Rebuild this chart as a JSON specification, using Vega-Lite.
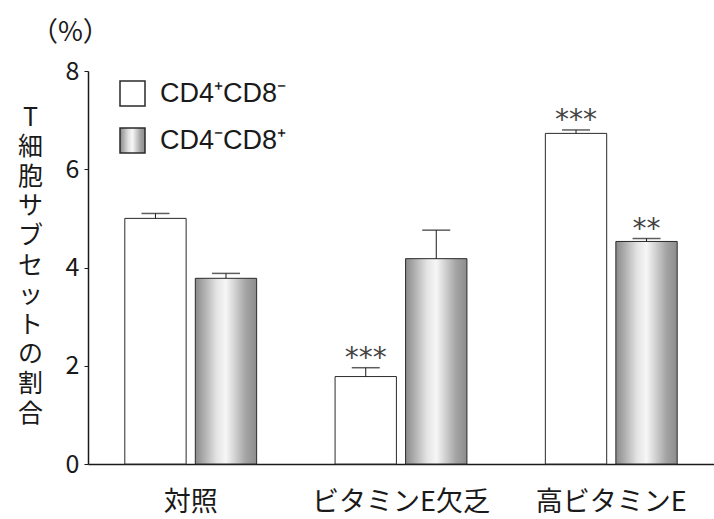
{
  "$schema": "https://vega.github.io/schema/vega-lite/v6.json",
  "width": 626,
  "height": 393,
  "autosize": {"type": "none"},
  "padding": {"left": 88, "top": 71, "right": 0, "bottom": 55},
  "background": "white",
  "config": {
    "font": "Noto Sans CJK JP",
    "view": {"stroke": null},
    "axis": {"labelColor": "#1a1a1a", "titleColor": "#1a1a1a", "domainColor": "#1a1a1a", "tickColor": "#1a1a1a", "domainWidth": 1.5, "grid": false}
  },
  "title": {
    "text": "（%）",
    "anchor": "start",
    "frame": "group",
    "dx": -57,
    "offset": 12,
    "fontSize": 27,
    "fontWeight": "normal",
    "color": "#1a1a1a",
    "font": "Noto Sans CJK JP"
  },
  "data": {
    "values": [
      {"group": "対照", "subset": "CD4⁺CD8⁻", "value": 5.0, "upper": 5.10, "sig": ""},
      {"group": "対照", "subset": "CD4⁻CD8⁺", "value": 3.78, "upper": 3.88, "sig": ""},
      {"group": "ビタミンE欠乏", "subset": "CD4⁺CD8⁻", "value": 1.78, "upper": 1.96, "sig": "***"},
      {"group": "ビタミンE欠乏", "subset": "CD4⁻CD8⁺", "value": 4.18, "upper": 4.76, "sig": ""},
      {"group": "高ビタミンE", "subset": "CD4⁺CD8⁻", "value": 6.73, "upper": 6.80, "sig": "***"},
      {"group": "高ビタミンE", "subset": "CD4⁻CD8⁺", "value": 4.53, "upper": 4.59, "sig": "**"}
    ]
  },
  "encoding": {
    "x": {
      "field": "group",
      "type": "nominal",
      "sort": ["対照", "ビタミンE欠乏", "高ビタミンE"],
      "scale": {"paddingInner": 0.373, "paddingOuter": 0.175},
      "axis": {"title": null, "labelAngle": 0, "labelFontSize": 27, "ticks": false, "labelPadding": 25, "domainWidth": 1.5}
    },
    "xOffset": {
      "field": "subset",
      "type": "nominal",
      "sort": ["CD4⁺CD8⁻", "CD4⁻CD8⁺"],
      "scale": {"paddingInner": 0.13, "paddingOuter": 0}
    }
  },
  "layer": [
    {
      "mark": {"type": "bar", "stroke": "#2a2a2a", "strokeWidth": 1},
      "encoding": {
        "y": {
          "field": "value",
          "type": "quantitative",
          "scale": {"domain": [0, 8], "nice": false},
          "axis": {
            "values": [0, 2, 4, 6, 8],
            "title": ["T", "細", "胞", "サ", "ブ", "セ", "ッ", "ト", "の", "割", "合"],
            "titleAngle": 0,
            "titleAlign": "center",
            "titleBaseline": "top",
            "titleX": -58,
            "titleY": 34,
            "titleFontSize": 25,
            "titleFontWeight": "normal",
            "titleLineHeight": 29.6,
            "labelFontSize": 25,
            "labelPadding": 5,
            "tickSize": 4
          }
        },
        "color": {
          "field": "subset",
          "type": "nominal",
          "scale": {
            "domain": ["CD4⁺CD8⁻", "CD4⁻CD8⁺"],
            "range": [
              "#ffffff",
              {"expr": "{gradient: 'linear', x1: 0, y1: 0, x2: 1, y2: 0, stops: [{offset: 0, color: '#8a8a8a'}, {offset: 0.12, color: '#a8a8a8'}, {offset: 0.35, color: '#e4e4e4'}, {offset: 0.5, color: '#f6f6f6'}, {offset: 0.62, color: '#d8d8d8'}, {offset: 0.82, color: '#a4a4a4'}, {offset: 1, color: '#8c8c8c'}]}"}
            ]
          },
          "legend": {
            "title": null,
            "orient": "none",
            "legendX": 31,
            "legendY": 9,
            "symbolType": "square",
            "symbolSize": 625,
            "symbolOpacity": 1,
            "labelFont": "Liberation Sans",
            "labelFontSize": 27,
            "labelColor": "#1a1a1a",
            "labelOffset": 14,
            "rowPadding": 16,
            "labelLimit": 300,
            "encode": {
              "symbols": {
                "stroke": {"value": "#1a1a1a"},
                "strokeWidth": {"value": 1}
              }
            }
          }
        }
      }
    },
    {
      "mark": {"type": "rule", "color": "#1a1a1a", "strokeWidth": 1},
      "encoding": {
        "y": {"field": "value", "type": "quantitative"},
        "y2": {"field": "upper"}
      }
    },
    {
      "mark": {"type": "tick", "color": "#1a1a1a", "size": 28, "thickness": 1.5},
      "encoding": {
        "y": {"field": "upper", "type": "quantitative"}
      }
    },
    {
      "transform": [{"filter": "datum.sig != ''"}],
      "mark": {"type": "text", "fontSize": 28, "baseline": "alphabetic", "dy": -1, "color": "#444444", "font": "DejaVu Sans", "letterSpacing": 1},
      "encoding": {
        "y": {"field": "upper", "type": "quantitative"},
        "text": {"field": "sig"}
      }
    }
  ]
}
